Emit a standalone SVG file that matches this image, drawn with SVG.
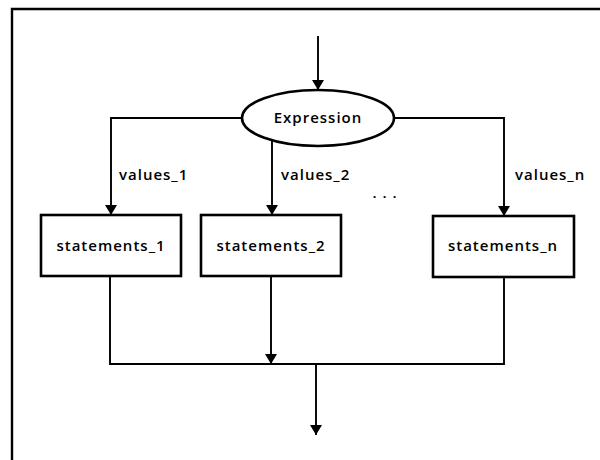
<svg xmlns="http://www.w3.org/2000/svg" width="600" height="460" viewBox="0 0 600 460">
  <style>
    .frame { fill: none; stroke: #000; stroke-width: 2.4; }
    .box { fill: #fff; stroke: #000; stroke-width: 2.6; }
    .wire { fill: none; stroke: #000; stroke-width: 1.9; }
    .lbl { font-family: "Open Sans", "Liberation Sans", sans-serif; font-weight: 600; font-size: 15px; letter-spacing: 1px; fill: #000; }
    .mid { text-anchor: middle; }
  </style>
  <defs>
    <marker id="arrow" markerUnits="userSpaceOnUse" markerWidth="10" markerHeight="12" viewBox="0 0 10 12" refX="10" refY="6" orient="auto">
      <path d="M0,0 L10,6 L0,12 z" fill="#000"/>
    </marker>
  </defs>

  <rect width="600" height="460" fill="#fff"/>

  <!-- page frame -->
  <path class="frame" d="M12,462 L12,9 L602,9"/>

  <!-- connectors -->
  <g id="connectors">
    <line class="wire" x1="318" y1="36" x2="318" y2="90" marker-end="url(#arrow)"/>
    <path class="wire" d="M242,118 L111,118 L111,215" marker-end="url(#arrow)"/>
    <line class="wire" x1="272" y1="140" x2="272" y2="215" marker-end="url(#arrow)"/>
    <path class="wire" d="M394,118 L504,118 L504,216" marker-end="url(#arrow)"/>
    <path class="wire" d="M110,276 L110,364 L504,364 L504,277"/>
    <line class="wire" x1="271" y1="277" x2="271" y2="364" marker-end="url(#arrow)"/>
    <line class="wire" x1="316" y1="364" x2="316" y2="435" marker-end="url(#arrow)"/>
    <text class="lbl" x="119" y="180">values_1</text>
    <text class="lbl" x="281" y="180">values_2</text>
    <text class="lbl" x="515" y="180">values_n</text>
    <text class="lbl mid" x="385" y="198">. . .</text>
  </g>

  <g id="expression">
    <ellipse class="box" cx="318" cy="118" rx="76" ry="28"/>
    <text class="lbl mid" x="318" y="123">Expression</text>
  </g>

  <g id="statements_1">
    <rect class="box" x="41" y="215" width="140" height="61"/>
    <text class="lbl mid" x="111" y="251">statements_1</text>
  </g>

  <g id="statements_2">
    <rect class="box" x="201" y="215" width="140" height="61"/>
    <text class="lbl mid" x="271" y="251">statements_2</text>
  </g>

  <g id="statements_n">
    <rect class="box" x="433" y="216" width="141" height="61"/>
    <text class="lbl mid" x="503" y="251">statements_n</text>
  </g>
</svg>
